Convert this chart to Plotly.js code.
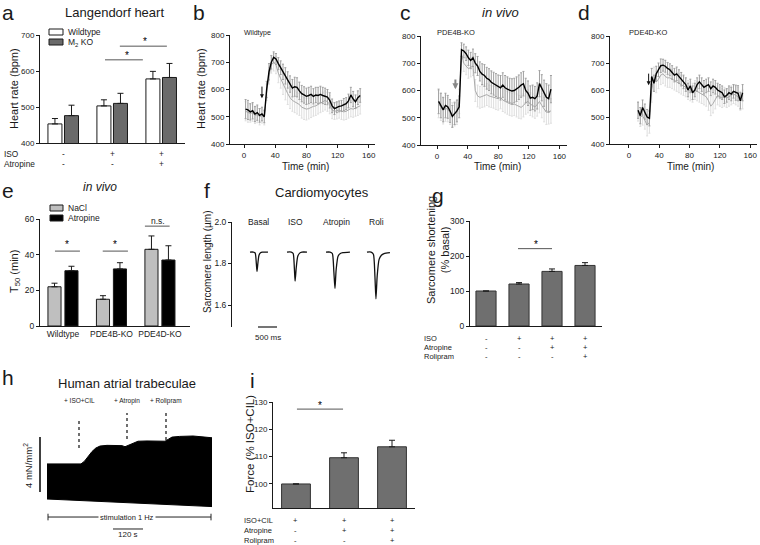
<!DOCTYPE html>
<html><head><meta charset="utf-8">
<script src="https://cdn.plot.ly/plotly-3.0.1.min.js"></script>
<style>html,body{margin:0;padding:0;background:#fff}#chart{width:760px;height:545px}</style>
</head><body><div id="chart"></div>
<script>
// ================= DATA =================
// (a) Langendorf heart
const aGroups = [0, 1, 2];
const aWT = [453, 503, 578], aWTerr = [15, 17, 21];
const aKO = [476, 510, 582], aKOerr = [29, 28, 39];
const aISO = ['-', '+', '+'], aAtr = ['-', '-', '+'];

// (b)(c) time axis, (d) time axis
const tBC = [2,5,8,11,14,17,20,23,26,29,32,35,38,41,44,47,50,53,56,59,62,65,68,71,74,77,80,83,86,89,92,95,98,101,104,107,110,113,116,119,122,125,128,131,134,137,140,143,146,149];
const tD = [12,15,18,21,24,27,30,33,36,39,42,45,48,51,54,57,60,63,66,69,72,75,78,81,84,87,90,93,96,99,102,105,108,111,114,117,120,123,126,129,132,135,138,141,144,147,150];

const bBlk = [528,525,518,522,510,515,505,510,500,600,665,700,718,712,695,680,665,650,635,620,605,610,608,595,585,580,575,578,582,575,580,578,582,578,575,572,560,540,530,535,538,540,545,548,558,580,565,555,570,578];
const bBlkErr = [35,35,30,30,28,28,25,25,22,30,30,25,20,20,22,25,28,30,30,30,32,35,35,32,30,30,30,30,30,28,28,30,30,30,30,28,28,25,22,20,20,20,22,22,25,28,28,25,25,25];
const bLt = [520,515,512,515,505,508,500,505,498,590,650,690,700,690,660,640,620,600,585,570,560,555,550,545,535,530,528,530,535,538,540,545,550,555,560,555,545,525,520,522,525,520,518,520,525,530,528,532,535,540];
const bLtErr = [35,35,32,32,30,30,30,28,28,30,30,30,32,32,35,35,38,38,40,40,40,40,40,40,40,40,40,38,38,36,35,35,35,35,35,35,34,32,30,30,30,30,30,30,30,30,30,30,30,30];

const cBlk = [560,545,530,545,540,525,505,515,525,540,750,745,735,720,710,720,700,690,670,660,655,645,640,630,625,620,615,610,620,610,605,600,598,600,605,612,620,625,600,590,572,575,570,580,625,610,590,575,570,605];
const cBlkErr = [45,45,45,45,42,42,40,40,40,40,25,25,25,28,30,32,35,35,35,38,40,40,40,42,42,42,42,45,45,45,45,45,45,45,45,45,45,45,45,45,45,45,45,48,48,48,48,50,50,50];
const cLt = [550,540,525,535,530,520,510,515,520,560,735,700,690,680,685,690,600,580,575,578,580,585,580,578,575,572,570,575,565,560,555,550,548,550,545,540,538,545,555,560,550,545,540,548,560,545,530,520,522,525];
const cLtErr = [50,50,48,48,45,45,45,45,45,45,30,30,32,35,35,35,40,40,40,40,40,40,40,40,40,42,42,42,42,42,42,42,42,42,42,42,42,42,42,42,42,42,42,42,42,45,45,45,45,45];

const dBlk = [525,505,535,520,500,495,650,625,660,675,690,692,688,680,675,665,655,660,650,640,630,620,600,615,590,600,620,630,620,610,615,620,605,615,610,600,595,590,575,580,590,585,595,590,588,560,590];
const dBlkErr = [30,30,28,28,28,28,30,30,28,25,25,22,22,22,22,25,25,25,25,25,25,25,25,25,25,25,25,25,25,25,25,25,25,25,25,25,25,25,25,25,25,25,25,28,28,30,30];
const dLt = [520,500,505,490,470,480,600,640,630,640,655,660,650,645,645,640,635,630,625,620,615,610,600,595,590,600,595,590,585,580,575,560,540,550,565,580,575,570,575,570,575,580,585,580,575,560,565];
const dLtErr = [35,35,35,35,40,40,45,45,40,35,35,35,35,35,35,35,35,35,35,35,35,35,35,35,35,35,35,35,35,35,35,35,35,35,35,35,35,35,35,35,35,35,35,35,35,35,35];

// (e) T50
const eGroups = ['Wildtype', 'PDE4B-KO', 'PDE4D-KO'];
const eNaCl = [22, 15, 43], eNaClErr = [2, 2, 7.5];
const eAtr = [31, 32, 37], eAtrErr = [2.5, 3.5, 8];

// (f) sarcomere length transients (time in ms, length in µm)
const fLabels = ['Basal', 'ISO', 'Atropin', 'Roli'];
const fBasalX = [473,560,610,640,658,680,710,750,800,947];
const fBasalY = [1.855,1.855,1.85,1.80,1.762,1.80,1.84,1.852,1.855,1.855];
const fIsoX = [1447,1560,1610,1640,1660,1690,1730,1780,1840,1973];
const fIsoY = [1.855,1.855,1.848,1.78,1.715,1.78,1.835,1.85,1.855,1.855];
const fAtrX = [2472,2580,2640,2680,2709,2740,2790,2850,2920,3103];
const fAtrY = [1.855,1.855,1.848,1.76,1.68,1.77,1.835,1.848,1.852,1.855];
const fRoliX = [3551,3660,3720,3760,3787,3820,3870,3930,4000,4155];
const fRoliY = [1.855,1.855,1.845,1.74,1.63,1.74,1.82,1.84,1.848,1.852];

// (g) sarcomere shortening
const gVals = [100, 120, 156, 173], gErr = [0, 4, 7, 8];
const gISO = ['-', '+', '+', '+'], gAtr = ['-', '-', '+', '+'], gRoli = ['-', '-', '-', '+'];

// (h) human atrial trabeculae force trace (time s, force mN/mm²)
const hTopT = [0,136,150,165,180,195,212,240,270,300,312,325,340,364,400,440,472,486,500,530,560,584,620,660];
const hTopF = [2.55,2.55,2.75,3.1,3.45,3.7,3.85,3.9,3.9,3.88,3.8,3.9,4.05,4.2,4.22,4.2,4.2,4.35,4.5,4.55,4.58,4.58,4.52,4.45];
const hBotT = [0, 660];
const hBotF = [0, -0.55];
const hEventT = [128, 320, 476];
const hEventLbl = ['+ ISO+CIL', '+ Atropin', '+ Rolipram'];
const hEventTop = [5.67, 6.25, 6.25], hEventBot = [3.71, 4.36, 4.29];

// (i) force
const iVals = [100, 109.6, 113.6], iErr = [0, 1.8, 2.4];
const iISO = ['+', '+', '+'], iAtr = ['-', '+', '+'], iRoli = ['-', '-', '+'];

// ================= HELPERS =================
const FONT = 'Liberation Sans, Arial, Helvetica, sans-serif';
const INK = '#1a1a1a';
const X = p => p / 760, Y = p => 1 - p / 545;
const dx = (a, b) => [X(a), X(b)];
const dy = (top, bot) => [Y(bot), Y(top)];
function axis(o) {
  return Object.assign({showline:true, linecolor:INK, linewidth:1, ticks:'outside', ticklen:3, tickwidth:1,
    tickcolor:INK, tickfont:{size:8, color:INK, family:FONT}, showgrid:false, zeroline:false,
    fixedrange:true, layer:'above traces'}, o);
}
const ann = [];
const shp = [];
function txt(x, y, text, size, o) {
  ann.push(Object.assign({xref:'paper', yref:'paper', x:X(x), y:Y(y), text:text, showarrow:false,
    font:{size:size, color:INK, family:FONT}, xanchor:'center', yanchor:'middle'}, o || {}));
}
function txtD(xa, ya, x, y, text, size, o) {
  ann.push(Object.assign({xref:xa, yref:ya, x:x, y:y, text:text, showarrow:false,
    font:{size:size, color:INK, family:FONT}, xanchor:'center', yanchor:'middle'}, o || {}));
}
function lineD(xa, ya, x0, y0, x1, y1, o) {
  shp.push(Object.assign({type:'line', xref:xa, yref:ya, x0:x0, y0:y0, x1:x1, y1:y1,
    line:{color:INK, width:1}}, o || {}));
}
function errY(arr, col) {
  return {type:'data', array:arr, arrayminus:arr.map(() => 0), symmetric:false, color:col || INK, thickness:1, width:3};
}

// ================= TRACES =================
const traces = [];
// (a)
traces.push({type:'bar', x:aGroups.map(i => i - 0.165), y:aWT, width:0.286, xaxis:'x', yaxis:'y',
  marker:{color:'#ffffff', line:{color:INK, width:1}}, error_y:errY(aWTerr)});
traces.push({type:'bar', x:aGroups.map(i => i + 0.173), y:aKO, width:0.286, xaxis:'x', yaxis:'y',
  marker:{color:'#6a6a6a', line:{color:INK, width:1}}, error_y:errY(aKOerr)});

// (b)(c)(d)
function ts(t, y, e, ax, lc, ec, w) {
  return {type:'scatter', mode:'lines', x:t, y:y, xaxis:'x' + ax, yaxis:'y' + ax,
    line:{color:lc, width:w}, error_y:{type:'data', array:e, color:ec, thickness:1, width:1}, hoverinfo:'skip'};
}
traces.push(ts(tBC, bLt, bLtErr, 2, '#aaaaaa', '#dedede', 1));
traces.push(ts(tBC, bBlk, bBlkErr, 2, '#000000', '#a0a0a0', 1.4));
traces.push(ts(tBC, cLt, cLtErr, 3, '#aaaaaa', '#dedede', 1));
traces.push(ts(tBC, cBlk, cBlkErr, 3, '#000000', '#a0a0a0', 1.4));
traces.push(ts(tD, dLt, dLtErr, 4, '#aaaaaa', '#dedede', 1));
traces.push(ts(tD, dBlk, dBlkErr, 4, '#000000', '#a0a0a0', 1.4));

// (e)
const eIdx = [0, 1, 2];
traces.push({type:'bar', x:eIdx.map(i => i - 0.175), y:eNaCl, width:0.27, xaxis:'x5', yaxis:'y5',
  marker:{color:'#bfbfbf', line:{color:INK, width:1}}, error_y:errY(eNaClErr)});
traces.push({type:'bar', x:eIdx.map(i => i + 0.175), y:eAtr, width:0.27, xaxis:'x5', yaxis:'y5',
  marker:{color:'#000000', line:{color:INK, width:1}}, error_y:errY(eAtrErr)});

// (f)
[[fBasalX, fBasalY], [fIsoX, fIsoY], [fAtrX, fAtrY], [fRoliX, fRoliY]].forEach(p => {
  traces.push({type:'scatter', mode:'lines', x:p[0], y:p[1], xaxis:'x6', yaxis:'y6',
    line:{color:'#111', width:1.3, shape:'spline', smoothing:0.6}, hoverinfo:'skip'});
});

// (g)
const gIdx = [0, 1, 2, 3];
traces.push({type:'bar', x:gIdx, y:gVals, width:0.61, xaxis:'x7', yaxis:'y7',
  marker:{color:'#6f6f6f', line:{color:'#333', width:1}}, error_y:errY(gErr)});

// (h)
traces.push({type:'scatter', mode:'lines', x:hBotT, y:hBotF, xaxis:'x8', yaxis:'y8',
  line:{color:'#000', width:1}, hoverinfo:'skip'});
traces.push({type:'scatter', mode:'lines', x:hTopT, y:hTopF, xaxis:'x8', yaxis:'y8', fill:'tonexty',
  fillcolor:'#000', line:{color:'#000', width:1}, hoverinfo:'skip'});

// (i)
const iIdx = [0, 1, 2];
traces.push({type:'bar', x:iIdx, y:iVals, width:0.6, xaxis:'x9', yaxis:'y9',
  marker:{color:'#6f6f6f', line:{color:'#333', width:1}}, error_y:errY(iErr)});

// ================= ANNOTATIONS / SHAPES =================
// panel letters
[['a',8,12],['b',199,12],['c',405,12],['d',584,12],['e',8,190],['f',207,190],['g',438,195],['h',8,377],['i',253,380]]
  .forEach(l => txt(l[1], l[2], l[0], 21));
// titles
txt(114, 12, 'Langendorf heart', 13);
txt(500, 12, '<i>in vivo</i>', 13);
txt(100, 187, '<i>in vivo</i>', 12);
txt(322, 193, 'Cardiomyocytes', 13);
txt(127, 383, 'Human atrial trabeculae', 13);
// axis titles
txt(14, 89, 'Heart rate (bpm)', 11, {textangle:-90});
txt(201, 89, 'Heart rate (bpm)', 11, {textangle:-90});
txt(305, 166, 'Time (min)', 10);
txt(497, 166, 'Time (min)', 10);
txt(690, 166, 'Time (min)', 10);
txt(15, 272, 'T<sub>50</sub> (min)', 11, {textangle:-90});
txt(207, 262, 'Sarcomere length (µm)', 10, {textangle:-90});
txt(438, 250, 'Sarcomere shortening<br>(% basal)', 11, {textangle:-90});
txt(250, 444, 'Force (% ISO+CIL)', 11.5, {textangle:-90});
// b/c/d labels
txt(242, 33, 'Wildtype', 7, {xanchor:'left'});
txt(435, 33, 'PDE4B-KO', 7.5, {xanchor:'left'});
txt(627, 33, 'PDE4D-KO', 7.5, {xanchor:'left'});
// arrows
ann.push({xref:'x2', yref:'y2', axref:'x2', ayref:'y2', x:23, y:568, ax:23, ay:618, showarrow:true,
  arrowhead:2, arrowsize:0.8, arrowwidth:1, arrowcolor:'#111', text:' ', font:{size:1}});
ann.push({xref:'x3', yref:'y3', axref:'x3', ayref:'y3', x:24, y:605, ax:24, ay:648, showarrow:true,
  arrowhead:2, arrowsize:0.6, arrowwidth:2, arrowcolor:'#888', text:' ', font:{size:1}});
ann.push({xref:'x4', yref:'y4', axref:'x4', ayref:'y4', x:26, y:618, ax:26, ay:668, showarrow:true,
  arrowhead:2, arrowsize:0.8, arrowwidth:1, arrowcolor:'#111', text:' ', font:{size:1}});

// (a) legend + conditions + significance
shp.push({type:'rect', xref:'paper', yref:'paper', x0:X(49), x1:X(63), y0:Y(35), y1:Y(29), fillcolor:'#fff', line:{color:INK, width:1}});
shp.push({type:'rect', xref:'paper', yref:'paper', x0:X(49), x1:X(63), y0:Y(45), y1:Y(39), fillcolor:'#6a6a6a', line:{color:INK, width:1}});
txt(66, 32, 'Wildtype', 8.5, {xanchor:'left'});
txt(66, 42, 'M<sub>2</sub> KO', 8.5, {xanchor:'left'});
txt(2, 154, 'ISO', 8.3, {xanchor:'left'});
txt(2, 164, 'Atropine', 8.3, {xanchor:'left'});
aGroups.forEach((g, k) => {
  txtD('x', 'paper', g, Y(154), aISO[k], 8.3);
  txtD('x', 'paper', g, Y(164), aAtr[k], 8.3);
});
lineD('x', 'y', 0.857, 631, 1.63, 631, {line:{color:'#555', width:1}});
lineD('x', 'y', 1.16, 669, 2.12, 669, {line:{color:'#555', width:1}});
txtD('x', 'y', 1.3, 643, '*', 10, {font:{size:10, color:'#000', family:FONT}});
txtD('x', 'y', 1.68, 681, '*', 10, {font:{size:10, color:'#000', family:FONT}});

// (e) legend + significance
shp.push({type:'rect', xref:'paper', yref:'paper', x0:X(50), x1:X(63), y0:Y(211), y1:Y(205), fillcolor:'#bfbfbf', line:{color:INK, width:1}});
shp.push({type:'rect', xref:'paper', yref:'paper', x0:X(50), x1:X(63), y0:Y(221), y1:Y(215), fillcolor:'#000', line:{color:INK, width:1}});
txt(66, 208, 'NaCl', 8.5, {xanchor:'left'});
txt(66, 218, 'Atropine', 8.5, {xanchor:'left'});
lineD('x5', 'y5', -0.165, 42, 0.35, 42, {line:{color:'#555', width:1}});
lineD('x5', 'y5', 0.82, 42, 1.34, 42, {line:{color:'#555', width:1}});
lineD('x5', 'y5', 1.69, 56, 2.2, 56, {line:{color:'#555', width:1}});
txtD('x5', 'y5', 0.09, 45.5, '*', 10, {font:{size:10, color:'#000', family:FONT}});
txtD('x5', 'y5', 1.08, 45.5, '*', 10, {font:{size:10, color:'#000', family:FONT}});
txtD('x5', 'y5', 1.95, 59, 'n.s.', 8.5);

// (f) labels and scale bar
const fCenters = [684, 1683, 2761, 3814];
fLabels.forEach((l, k) => txtD('x6', 'y6', fCenters[k], 2.0, l, 8.5));
shp.push({type:'line', xref:'x6', yref:'paper', x0:684, x1:1184, y0:Y(327), y1:Y(327), line:{color:INK, width:1.2}});
txtD('x6', 'paper', 934, Y(337), '500 ms', 8);

// (g) conditions + significance
txt(422, 338, 'ISO', 7.5, {xanchor:'left'});
txt(422, 347, 'Atropine', 7.5, {xanchor:'left'});
txt(422, 356, 'Rolipram', 7.5, {xanchor:'left'});
gIdx.forEach(k => {
  txtD('x7', 'paper', k, Y(338), gISO[k], 7.5);
  txtD('x7', 'paper', k, Y(347), gAtr[k], 7.5);
  txtD('x7', 'paper', k, Y(356), gRoli[k], 7.5);
});
lineD('x7', 'y7', 0.97, 221, 2.0, 221, {line:{color:'#555', width:1}});
txtD('x7', 'y7', 1.5, 233, '*', 10, {font:{size:10, color:'#000', family:FONT}});

// (h) scale bars, event markers, stimulation bar
lineD('x8', 'y8', -28, 0.51, -28, 4.51, {line:{color:'#000', width:1.5}});
txt(28, 465, '4 mN/mm<sup>2</sup>', 9.5, {textangle:-90});
hEventT.forEach((t, k) => {
  lineD('x8', 'y8', t, hEventBot[k], t, hEventTop[k], {line:{color:'#222', width:1.3, dash:'dot'}});
  txtD('x8', 'y8', t, 7.13, hEventLbl[k], 6.5);
});
lineD('x8', 'y8', 4, -1.31, 656, -1.31, {line:{color:'#222', width:1}});
lineD('x8', 'y8', 4, -1.55, 4, -1.07, {line:{color:'#222', width:1}});
lineD('x8', 'y8', 656, -1.55, 656, -1.07, {line:{color:'#222', width:1}});
txtD('x8', 'y8', 320, -1.31, 'stimulation 1 Hz', 7.5, {bgcolor:'#fff', borderpad:1});
lineD('x8', 'y8', 264, -2.18, 384, -2.18, {line:{color:'#222', width:1}});
txtD('x8', 'y8', 324, -2.6, '120 s', 8);

// (i) conditions + significance
txt(242, 520, 'ISO+CIL', 7.5, {xanchor:'left'});
txt(242, 530, 'Atropine', 7.5, {xanchor:'left'});
txt(242, 540, 'Rolipram', 7.5, {xanchor:'left'});
iIdx.forEach(k => {
  txtD('x9', 'paper', k, Y(520), iISO[k], 7.5);
  txtD('x9', 'paper', k, Y(530), iAtr[k], 7.5);
  txtD('x9', 'paper', k, Y(540), iRoli[k], 7.5);
});
lineD('x9', 'y9', 0.02, 127.4, 0.98, 127.4, {line:{color:'#555', width:1}});
txtD('x9', 'y9', 0.5, 128.9, '*', 10, {font:{size:10, color:'#000', family:FONT}});

// ================= LAYOUT =================
const noX = {ticks:'', showticklabels:false};
const layout = {
  width:760, height:545, margin:{l:0, r:0, t:0, b:0}, paper_bgcolor:'#fff', plot_bgcolor:'rgba(0,0,0,0)',
  showlegend:false, barmode:'overlay', font:{family:FONT, color:INK, size:9},
  xaxis: axis(Object.assign({domain:dx(40,185), range:[-0.47,2.49], anchor:'y'}, noX)),
  yaxis: axis({domain:dy(35,143), range:[400,700], anchor:'x', tickvals:[400,500,600,700]}),
  xaxis2: axis({domain:dx(230,375), range:[-18,168], anchor:'y2', tickvals:[0,40,80,120,160]}),
  yaxis2: axis({domain:dy(35,144), range:[400,800], anchor:'x2', tickvals:[400,500,600,700,800]}),
  xaxis3: axis({domain:dx(421,567), range:[-21,170], anchor:'y3', tickvals:[0,40,80,120,160]}),
  yaxis3: axis({domain:dy(36,145), range:[400,800], anchor:'x3', tickvals:[400,500,600,700,800]}),
  xaxis4: axis({domain:dx(610,757), range:[-25,169], anchor:'y4', tickvals:[0,40,80,120,160]}),
  yaxis4: axis({domain:dy(36,144), range:[400,800], anchor:'x4', tickvals:[400,500,600,700,800]}),
  xaxis5: axis({domain:dx(40,190), range:[-0.474,2.62], anchor:'y5', tickvals:[0,1,2], ticktext:eGroups, ticks:'', tickfont:{size:8.5, color:INK, family:FONT}}),
  yaxis5: axis({domain:dy(219,326), range:[0,60], anchor:'x5', tickvals:[0,20,40,60], tickfont:{size:8.5, color:INK, family:FONT}}),
  xaxis6: {visible:false, domain:dx(232,400), range:[0,4420], anchor:'y6', fixedrange:true},
  yaxis6: axis({domain:dy(222,327), range:[1.494,2.0], anchor:'x6', tickvals:[1.6,1.8,2.0], tickformat:'.1f', tickfont:{size:8.5, color:INK, family:FONT}}),
  xaxis7: axis(Object.assign({domain:dx(470,602), range:[-0.485,3.515], anchor:'y7'}, noX)),
  yaxis7: axis({domain:dy(221,326), range:[0,300], anchor:'x7', tickvals:[0,100,200,300], tickfont:{size:8.5, color:INK, family:FONT}}),
  xaxis8: {visible:false, domain:dx(35,215), range:[-48,672], anchor:'y8', fixedrange:true},
  yaxis8: {visible:false, domain:dy(395,540), range:[-2.98,7.56], anchor:'x8', fixedrange:true},
  xaxis9: axis(Object.assign({domain:dx(273,415), range:[-0.479,2.479], anchor:'y9'}, noX)),
  yaxis9: axis({domain:dy(402,508), range:[91.2,130], anchor:'x9', tickvals:[100,110,120,130]}),
  annotations: ann,
  shapes: shp
};

Plotly.newPlot('chart', traces, layout, {staticPlot:true, displayModeBar:false});
</script></body></html>
